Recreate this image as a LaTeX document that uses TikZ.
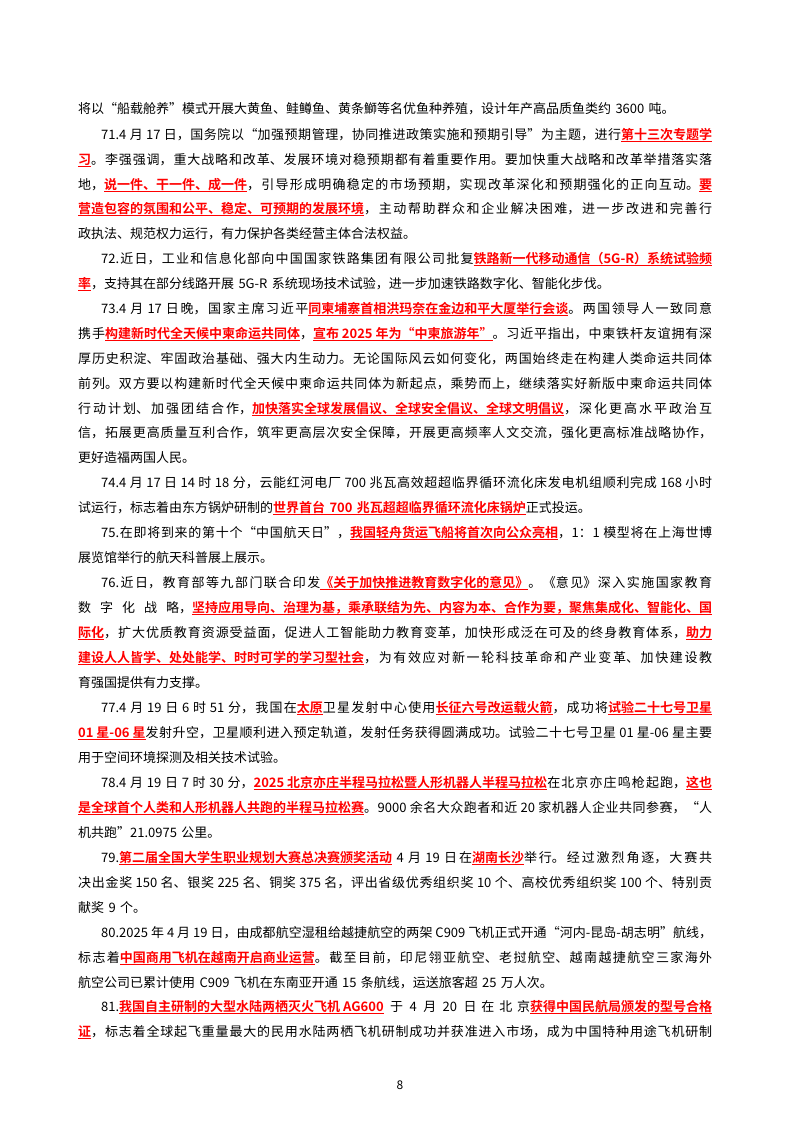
\documentclass[tikz,border=0pt]{standalone}
\usepackage{fontspec}
\setmainfont{Noto Sans CJK SC}[BoldFont={Noto Sans CJK SC Bold}]
\XeTeXlinebreaklocale "zh"
\XeTeXlinebreakskip=0pt plus 2pt minus 0.4pt
\newsavebox{\rbox}
\newcommand{\R}[1]{\textcolor{red}{\bfseries\sbox{\rbox}{#1}\rlap{\rule[-2.6pt]{\wd\rbox}{0.8pt}}\usebox{\rbox}}}
\tikzset{
  ln/.style={anchor=base west,inner sep=0pt,text width=634pt,align=justify,
    font=\fontsize{13pt}{15pt}\selectfont,
    execute at begin node={\parfillskip=0pt\emergencystretch=20pt\tolerance=9999}},
  ind/.style={text width=611pt},
  last/.style={align=left,execute at begin node={\parfillskip=0pt plus 1fil}},
  pn/.style={anchor=base,inner sep=0pt,font=\fontsize{12pt}{14pt}\selectfont}
}
\begin{document}
\begin{tikzpicture}[x=1pt,y=1pt]
\useasboundingbox (0,0) rectangle (800,-1132);
\fill[white] (0,0) rectangle (800,-1132);
\newcommand{\Ln}[4][]{\node[ln,#1] (#2) at (#3) {#4};}
\Ln[last]{l1}{78,-113}{将以“船载舱养”模式开展大黄鱼、鲑鳟鱼、黄条鰤等名优鱼种养殖，设计年产高品质鱼类约 3600 吨。}
\Ln[ind]{l2}{101,-139}{71.4 月 17 日，国务院以“加强预期管理，协同推进政策实施和预期引导”为主题，进行\R{第十三次专题学}}
\Ln{l3}{78,-164}{\R{习}。李强强调，重大战略和改革、发展环境对稳预期都有着重要作用。要加快重大战略和改革举措落实落}
\Ln{l4}{78,-189}{地，\R{说一件、干一件、成一件}，引导形成明确稳定的市场预期，实现改革深化和预期强化的正向互动。\R{要}}
\Ln{l5}{78,-213}{\R{营造包容的氛围和公平、稳定、可预期的发展环境}，主动帮助群众和企业解决困难，进一步改进和完善行}
\Ln[last]{l6}{78,-238}{政执法、规范权力运行，有力保护各类经营主体合法权益。}
\Ln[ind]{l7}{101,-263}{72.近日，工业和信息化部向中国国家铁路集团有限公司批复\R{铁路新一代移动通信（5G-R）系统试验频}}
\Ln[last]{l8}{78,-288}{\R{率}，支持其在部分线路开展 5G-R 系统现场技术试验，进一步加速铁路数字化、智能化步伐。}
\Ln[ind]{l9}{101,-313}{73.4 月 17 日晚，国家主席习近平\R{同柬埔寨首相洪玛奈在金边和平大厦举行会谈}。两国领导人一致同意}
\Ln{l10}{78,-338}{携手\R{构建新时代全天候中柬命运共同体}，\R{宣布 2025 年为“中柬旅游年”}。习近平指出，中柬铁杆友谊拥有深}
\Ln{l11}{78,-363}{厚历史积淀、牢固政治基础、强大内生动力。无论国际风云如何变化，两国始终走在构建人类命运共同体}
\Ln{l12}{78,-388}{前列。双方要以构建新时代全天候中柬命运共同体为新起点，乘势而上，继续落实好新版中柬命运共同体}
\Ln{l13}{78,-413}{行动计划、加强团结合作，\R{加快落实全球发展倡议、全球安全倡议、全球文明倡议}，深化更高水平政治互}
\Ln{l14}{78,-437}{信，拓展更高质量互利合作，筑牢更高层次安全保障，开展更高频率人文交流，强化更高标准战略协作，}
\Ln[last]{l15}{78,-462}{更好造福两国人民。}
\Ln[ind]{l16}{101,-487}{74.4 月 17 日 14 时 18 分，云能红河电厂 700 兆瓦高效超超临界循环流化床发电机组顺利完成 168 小时}
\Ln[last]{l17}{78,-512}{试运行，标志着由东方锅炉研制的\R{世界首台 700 兆瓦超超临界循环流化床锅炉}正式投运。}
\Ln[ind]{l18}{101,-537}{75.在即将到来的第十个“中国航天日”，\R{我国轻舟货运飞船将首次向公众亮相}，1：1 模型将在上海世博}
\Ln[last]{l19}{78,-562}{展览馆举行的航天科普展上展示。}
\Ln[ind]{l20}{101,-587}{76.近日，教育部等九部门联合印发\R{《关于加快推进教育数字化的意见》}。《意见》深入实施国家教育}
\Ln{l21}{78,-612}{数字化战略，\R{坚持应用导向、治理为基，乘承联结为先、内容为本、合作为要，聚焦集成化、智能化、国}}
\Ln{l22}{78,-637}{\R{际化}，扩大优质教育资源受益面，促进人工智能助力教育变革，加快形成泛在可及的终身教育体系，\R{助力}}
\Ln{l23}{78,-662}{\R{建设人人皆学、处处能学、时时可学的学习型社会}，为有效应对新一轮科技革命和产业变革、加快建设教}
\Ln[last]{l24}{78,-687}{育强国提供有力支撑。}
\Ln[ind]{l25}{101,-712}{77.4 月 19 日 6 时 51 分，我国在\R{太原}卫星发射中心使用\R{长征六号改运载火箭}，成功将\R{试验二十七号卫星}}
\Ln{l26}{78,-737}{\R{01 星-06 星}发射升空，卫星顺利进入预定轨道，发射任务获得圆满成功。试验二十七号卫星 01 星-06 星主要}
\Ln[last]{l27}{78,-762}{用于空间环境探测及相关技术试验。}
\Ln[ind]{l28}{101,-787}{78.4 月 19 日 7 时 30 分，\R{2025 北京亦庄半程马拉松暨人形机器人半程马拉松}在北京亦庄鸣枪起跑，\R{这也}}
\Ln{l29}{78,-812}{\R{是全球首个人类和人形机器人共跑的半程马拉松赛}。9000 余名大众跑者和近 20 家机器人企业共同参赛，“人}
\Ln[last]{l30}{78,-837}{机共跑”21.0975 公里。}
\Ln[ind]{l31}{101,-862}{79.\R{第二届全国大学生职业规划大赛总决赛颁奖活动} 4 月 19 日在\R{湖南长沙}举行。经过激烈角逐，大赛共}
\Ln{l32}{78,-887}{决出金奖 150 名、银奖 225 名、铜奖 375 名，评出省级优秀组织奖 10 个、高校优秀组织奖 100 个、特别贡}
\Ln[last]{l33}{78,-912}{献奖 9 个。}
\Ln[ind]{l34}{101,-937}{80.2025 年 4 月 19 日，由成都航空湿租给越捷航空的两架 C909 飞机正式开通“河内-昆岛-胡志明”航线，}
\Ln{l35}{78,-962}{标志着\R{中国商用飞机在越南开启商业运营}。截至目前，印尼翎亚航空、老挝航空、越南越捷航空三家海外}
\Ln[last]{l36}{78,-987}{航空公司已累计使用 C909 飞机在东南亚开通 15 条航线，运送旅客超 25 万人次。}
\Ln[ind]{l37}{101,-1011}{81.\R{我国自主研制的大型水陆两栖灭火飞机 AG600} 于 4 月 20 日在北京\R{获得中国民航局颁发的型号合格}}
\Ln{l38}{78,-1036}{\R{证}，标志着全球起飞重量最大的民用水陆两栖飞机研制成功并获准进入市场，成为中国特种用途飞机研制}
\node[pn] (page) at (400,-1089) {8};
\end{tikzpicture}
\end{document}
